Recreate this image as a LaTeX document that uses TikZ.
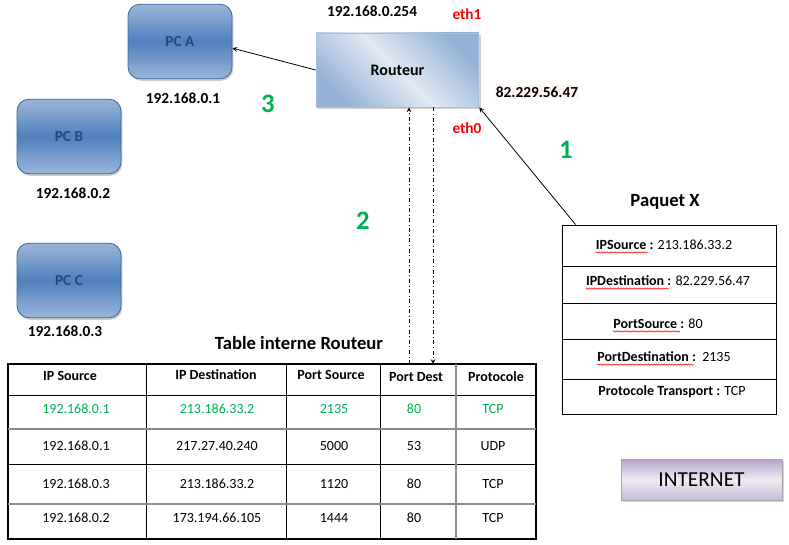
\documentclass[tikz,border=0pt]{standalone}
\usepackage{fontspec}
\setmainfont{Carlito}
\usepackage{xcolor}
\usetikzlibrary{shadows,decorations.pathmorphing}
\definecolor{pcblue}{HTML}{4F81BD}
\definecolor{pclight}{HTML}{9BB5D9}
\definecolor{pcedge}{HTML}{3F6696}
\definecolor{pctext}{HTML}{27467A}
\definecolor{rtdark}{HTML}{95B3D7}
\definecolor{rtlight}{HTML}{E1E9F4}
\definecolor{rtedge}{HTML}{A7BEDD}
\definecolor{stepgreen}{HTML}{00B050}
\definecolor{ethred}{HTML}{FF0000}
\definecolor{wanbg}{HTML}{FFF5F3}
\definecolor{netdark}{HTML}{B4A4C9}
\definecolor{netlight}{HTML}{EFEBF5}
\definecolor{rulegray}{HTML}{8C8C8C}

\begin{document}
\begin{tikzpicture}[x=0.75pt,y=-0.75pt,>=stealth,line width=0.6pt,
		pc/.style={rounded corners=9pt,minimum width=78pt,minimum height=56pt,draw=pcedge,
			top color=pclight,bottom color=pclight,middle color=pcblue,text=pctext,
			font=\fontsize{11.5}{13}\selectfont\bfseries,
			drop shadow={opacity=0.4,shadow xshift=1pt,shadow yshift=-1.5pt}},
		lbl/.style={font=\fontsize{11.5}{13}\selectfont\bfseries,inner sep=1pt},
		eth/.style={lbl,text=ethred},
		stepnum/.style={font=\fontsize{20}{22}\selectfont\bfseries,text=stepgreen},
		cell/.style={font=\fontsize{10.5}{12}\selectfont,inner sep=0pt},
		head/.style={cell,font=\fontsize{10.5}{12}\selectfont\bfseries},
		pkt/.style={font=\fontsize{10.5}{12}\selectfont,inner sep=0pt},
		wavy/.style={red,line width=0.4pt,decorate,decoration={snake,amplitude=0.5pt,segment length=2pt}}]
	\useasboundingbox (0,0) rectangle (789,545);

	% The LAN
	\node[pc] (pca) at (180,41.5) {PC A};
	\node[pc] (pcb) at (69,136.5) {PC B};
	\node[pc] (pcc) at (69,280.5) {PC C};
	\node[lbl] (ipa) at (183,98) {192.168.0.1};
	\node[lbl] (ipb) at (73,193) {192.168.0.2};
	\node[lbl] (ipc) at (65,331) {192.168.0.3};

	% The router
	\node[draw=rtedge,minimum width=122pt,minimum height=55.5pt,
		left color=rtdark,right color=rtdark,middle color=rtlight,shading angle=-45,
		font=\fontsize{12}{14}\selectfont\bfseries,
		drop shadow={opacity=0.35,shadow xshift=1.5pt,shadow yshift=-1.5pt}] (routeur) at (397.5,70) {Routeur};
	\node[lbl] (iplan) at (372,11) {192.168.0.254};
	\node[eth] (eth1) at (467,14) {eth1};
	\node[lbl,fill=wanbg] (ipwan) at (537,92) {82.229.56.47};
	\node[eth] (eth0) at (467,128) {eth0};

	\node[stepnum] (s3) at (268,104) {3};
	\node[stepnum] (s1) at (566,150) {1};
	\node[stepnum] (s2) at (363,221) {2};

	% The packet
	\node[font=\fontsize{14}{16}\selectfont\bfseries] (titre) at (665,202) {Paquet X};
	\node[draw,minimum width=160.5pt,minimum height=141.75pt,inner sep=0pt] (paquet) at (669,319.5) {};
	\foreach \y in {266,303,339,379}
		\draw (paquet.west |- 0,\y) -- (paquet.east |- 0,\y);
	\node[pkt] (psrc) at (664,245) {\textbf{IPSource :} 213.186.33.2};
	\node[pkt] (pdst) at (668,281) {\textbf{IPDestination :} 82.229.56.47};
	\node[pkt] (pport) at (658,324) {\textbf{PortSource :} 80};
	\node[pkt] (pdport) at (664,357) {\textbf{PortDestination :}\ \ 2135};
	\node[pkt] (pproto) at (672,392) {\textbf{Protocole Transport :} TCP};
	\draw[wavy] ([yshift=-2pt]psrc.base west) -- ++(53,0);
	\draw[wavy] ([yshift=-2pt]pdst.base west) -- ++(83,0);
	\draw[wavy] ([yshift=-2pt]pport.base west) -- ++(67,0);
	\draw[wavy] ([yshift=-2pt]pdport.base west) -- ++(97,0);

	\node[draw=gray!70,minimum width=120.75pt,minimum height=30.75pt,
		top color=netdark,bottom color=netdark!75,middle color=netlight,
		font=\fontsize{16}{18}\selectfont,
		drop shadow={opacity=0.35,shadow xshift=1.5pt,shadow yshift=-1.5pt}] (internet) at (701.5,479.5) {INTERNET};

	% The table
	\node[font=\fontsize{14}{16}\selectfont\bfseries] (ttitre) at (299,343) {Table interne Routeur};
	\draw[line width=0.8pt] (8,364) rectangle (536,539);
	\foreach \x in {146,286,380}
		\draw (\x,364) -- (\x,539);
	\foreach \y in {395,464}
		\draw (8,\y) -- (536,\y);
	\draw[rulegray,line width=1.5pt] (456,364) -- (456,539);
	\foreach \y in {429,504}
		\draw[rulegray,line width=1.5pt] (8,\y) -- (536,\y);
	\foreach \t/\x/\y [count=\i] in {IP Source/70/376,IP Destination/216/375,Port Source/331/375,Port Dest/416/377,Protocole/496/377}
		\node[head] (h\i) at (\x,\y) {\t};
	\foreach \y/\col/\a/\b/\c/\d/\e [count=\i] in {409/stepgreen/192.168.0.1/213.186.33.2/2135/80/TCP,
			446/black/192.168.0.1/217.27.40.240/5000/53/UDP,
			484/black/192.168.0.3/213.186.33.2/1120/80/TCP,
			518/black/192.168.0.2/173.194.66.105/1444/80/TCP}{
		\node[cell,text=\col] (r\i a) at (76,\y) {\a};
		\node[cell,text=\col] (r\i b) at (217,\y) {\b};
		\node[cell,text=\col] (r\i c) at (334,\y) {\c};
		\node[cell,text=\col] (r\i d) at (414,\y) {\d};
		\node[cell,text=\col] (r\i e) at (493,\y) {\e};
	}

	% The connectors
	\draw[->] (routeur.west) -- ([yshift=-5pt]pca.east);
	\draw[->] ([xshift=10.5pt]paquet.north west) -- (routeur.south east);
	\coordinate (tin) at (409,364);
	\coordinate (tout) at (433,364);
	\draw[->,dash dot] (tin) -- (tin |- routeur.south);
	\draw[->,dash dot] (tout |- routeur.south) -- (tout);
\end{tikzpicture}
\end{document}
